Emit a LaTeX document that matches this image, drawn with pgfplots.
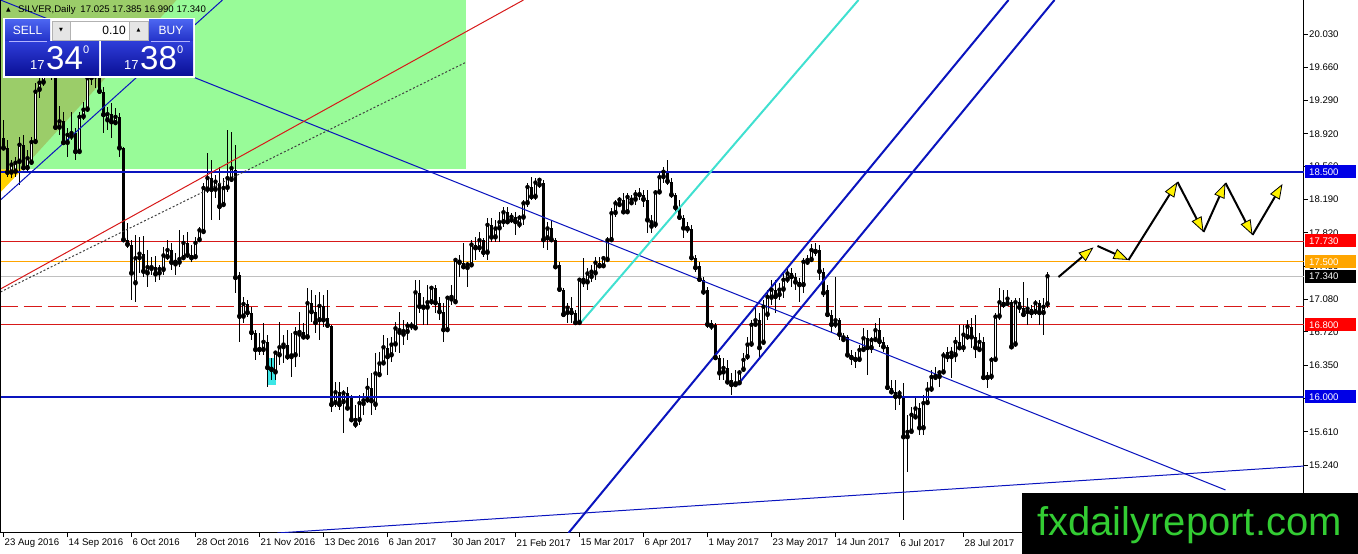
\documentclass[border=0pt]{standalone}
\usepackage{fontspec}
\setmainfont{Liberation Sans}
\newfontfamily\dejavu{DejaVu Sans}
\usepackage{pgfplots}
\usepackage{pgfplotstable}
\pgfplotsset{compat=1.18}
\usetikzlibrary{arrows.meta}

\definecolor{mtblue}{RGB}{10,20,190}
\definecolor{tagblue}{RGB}{0,0,230}
\definecolor{mtred}{RGB}{215,25,25}
\definecolor{mtorange}{RGB}{255,165,0}
\definecolor{mtgray}{RGB}{192,192,192}
\definecolor{palegr}{RGB}{152,251,152}
\definecolor{olivegr}{RGB}{155,205,105}
\definecolor{goldy}{RGB}{255,210,0}
\definecolor{turq}{RGB}{64,224,208}
\definecolor{aqua}{RGB}{60,230,230}
\definecolor{wmgreen}{RGB}{51,204,51}
\definecolor{btntop}{RGB}{75,100,240}
\definecolor{btnbot}{RGB}{35,50,200}
\definecolor{boxtop}{RGB}{45,60,215}
\definecolor{boxbot}{RGB}{10,15,150}

% daily silver candles: bar number, open, high, low, close
\pgfplotstableread{
i o h l c
0 18.87 19.07 18.74 18.76
1 18.76 18.85 18.44 18.49
2 18.49 18.63 18.43 18.58
3 18.50 18.66 18.44 18.60
4 18.61 18.89 18.35 18.80
5 18.80 18.91 18.52 18.54
6 18.54 18.74 18.50 18.65
7 18.60 18.89 18.58 18.83
8 18.83 19.49 18.82 19.39
9 19.41 19.54 19.32 19.49
10 19.49 19.72 19.45 19.61
11 19.61 19.74 19.57 19.68
12 19.68 19.72 19.52 19.63
13 19.63 19.69 18.96 18.99
14 18.99 19.23 18.91 19.06
15 19.06 19.16 18.80 18.82
16 18.82 18.99 18.66 18.91
17 18.89 19.16 18.85 18.93
18 18.93 18.99 18.63 18.72
19 18.72 19.16 18.71 19.11
20 19.11 19.27 19.07 19.19
21 19.19 19.60 19.16 19.54
22 19.54 19.74 19.46 19.63
23 19.63 19.72 19.43 19.56
24 19.56 19.63 19.36 19.39
25 19.39 19.44 18.93 19.13
26 19.07 19.22 18.96 19.14
27 19.14 19.26 18.87 19.05
28 19.04 19.21 19.02 19.11
29 19.11 19.15 18.66 18.76
30 18.76 18.77 17.72 17.74
31 17.74 17.93 17.65 17.69
32 17.69 17.74 17.08 17.37
33 17.26 17.80 17.05 17.54
34 17.54 17.77 17.37 17.59
35 17.59 17.79 17.33 17.39
36 17.37 17.63 17.22 17.44
37 17.42 17.55 17.35 17.44
38 17.44 17.56 17.27 17.36
39 17.37 17.46 17.30 17.42
40 17.41 17.66 17.35 17.57
41 17.55 17.74 17.52 17.63
42 17.63 17.71 17.41 17.49
43 17.47 17.60 17.35 17.50
44 17.49 17.85 17.44 17.53
45 17.54 17.80 17.52 17.71
46 17.71 17.83 17.54 17.57
47 17.57 17.69 17.50 17.54
48 17.55 17.77 17.54 17.71
49 17.74 17.89 17.72 17.85
50 17.83 18.38 17.82 18.32
51 18.30 18.71 18.26 18.43
52 18.43 18.63 17.96 18.30
53 18.30 18.46 18.21 18.39
54 18.38 18.55 17.96 18.11
55 18.13 18.43 18.11 18.32
56 18.32 18.96 18.27 18.43
57 18.41 18.94 18.39 18.54
58 18.52 18.80 17.15 17.32
59 17.35 17.39 16.61 16.89
60 16.89 17.11 16.82 17.03
61 17.03 17.08 16.89 16.93
62 16.93 17.00 16.63 16.71
63 16.71 16.74 16.41 16.52
64 16.54 16.71 16.46 16.52
65 16.52 16.82 16.46 16.61
66 16.61 16.69 16.11 16.32
67 16.33 16.43 16.19 16.30
68 16.27 16.50 16.19 16.49
69 16.46 16.83 16.35 16.55
70 16.55 16.69 16.37 16.58
71 16.58 16.74 16.41 16.44
72 16.44 16.71 16.22 16.46
73 16.46 16.78 16.33 16.71
74 16.69 16.94 16.44 16.72
75 16.72 16.82 16.65 16.66
76 16.66 17.21 16.63 17.04
77 17.04 17.19 16.83 16.94
78 16.94 17.13 16.71 16.82
79 16.85 17.16 16.63 17.01
80 17.01 17.13 16.78 16.85
81 16.88 17.19 16.76 16.79
82 16.79 16.80 15.83 15.91
83 15.93 16.16 15.89 16.05
84 16.05 16.16 15.85 15.91
85 15.94 16.08 15.60 16.04
86 16.04 16.11 15.85 15.87
87 16.00 16.02 15.72 15.74
88 15.76 15.91 15.65 15.69
89 15.74 16.02 15.69 15.93
90 15.92 16.04 15.80 15.96
91 15.96 16.21 15.93 16.10
92 16.10 16.26 15.80 15.95
93 15.91 16.49 15.85 16.26
94 16.24 16.50 16.22 16.37
95 16.37 16.69 16.35 16.55
96 16.54 16.65 16.24 16.44
97 16.46 16.66 16.39 16.58
98 16.58 16.83 16.50 16.76
99 16.71 16.94 16.49 16.74
100 16.69 16.85 16.58 16.73
101 16.72 16.83 16.63 16.79
102 16.78 16.83 16.74 16.79
103 16.76 17.30 16.74 17.16
104 17.15 17.30 16.93 17.00
105 17.02 17.11 16.80 16.99
106 16.99 17.24 16.80 17.05
107 17.05 17.23 17.02 17.21
108 17.21 17.24 16.93 17.04
109 17.04 17.11 16.85 16.94
110 16.94 17.04 16.61 16.74
111 16.74 17.11 16.72 17.10
112 17.08 17.24 17.02 17.11
113 17.05 17.54 17.04 17.52
114 17.52 17.57 17.33 17.49
115 17.49 17.71 17.43 17.44
116 17.43 17.50 17.22 17.47
117 17.46 17.74 17.44 17.69
118 17.69 17.77 17.52 17.65
119 17.65 17.83 17.61 17.74
120 17.74 17.76 17.55 17.60
121 17.60 17.99 17.52 17.91
122 17.91 17.99 17.72 17.77
123 17.77 17.96 17.72 17.87
124 17.87 18.05 17.72 17.94
125 17.94 18.11 17.89 18.05
126 18.05 18.11 17.93 17.94
127 17.96 18.04 17.93 18.00
128 18.00 18.05 17.80 17.94
129 17.91 18.02 17.87 17.99
130 17.99 18.19 17.91 18.15
131 18.15 18.38 18.11 18.33
132 18.33 18.44 18.19 18.22
133 18.22 18.43 18.19 18.38
134 18.35 18.43 18.32 18.41
135 18.38 18.41 17.65 17.74
136 17.76 17.94 17.63 17.87
137 17.87 17.96 17.72 17.74
138 17.74 17.76 17.43 17.44
139 17.46 17.50 17.16 17.19
140 17.19 17.21 16.89 16.91
141 16.93 17.04 16.82 16.99
142 16.99 17.11 16.82 16.93
143 16.93 16.96 16.81 16.82
144 16.82 17.32 16.81 17.30
145 17.27 17.54 17.22 17.30
146 17.27 17.43 17.19 17.37
147 17.33 17.46 17.27 17.39
148 17.37 17.55 17.30 17.49
149 17.49 17.55 17.44 17.45
150 17.45 17.55 17.44 17.54
151 17.52 17.77 17.50 17.74
152 17.74 18.10 17.72 18.04
153 18.04 18.19 18.00 18.15
154 18.13 18.22 18.11 18.19
155 18.19 18.26 18.04 18.05
156 18.05 18.26 18.04 18.22
157 18.15 18.24 18.13 18.19
158 18.19 18.30 18.13 18.25
159 18.25 18.32 18.19 18.24
160 18.24 18.30 18.11 18.19
161 18.19 18.30 17.82 17.96
162 17.89 18.02 17.82 17.94
163 17.91 18.30 17.87 18.27
164 18.27 18.49 18.25 18.44
165 18.44 18.55 18.38 18.50
166 18.50 18.63 18.35 18.39
167 18.39 18.43 18.21 18.24
168 18.24 18.26 18.05 18.10
169 18.10 18.19 17.96 17.99
170 17.99 18.02 17.76 17.87
171 17.90 17.94 17.82 17.86
172 17.86 17.91 17.52 17.54
173 17.54 17.57 17.39 17.43
174 17.45 17.50 17.27 17.30
175 17.30 17.33 17.13 17.16
176 17.19 17.22 16.76 16.80
177 16.82 16.85 16.74 16.78
178 16.80 16.82 16.41 16.43
179 16.43 16.46 16.19 16.26
180 16.27 16.43 16.19 16.32
181 16.32 16.41 16.15 16.16
182 16.19 16.26 16.02 16.13
183 16.13 16.30 16.11 16.15
184 16.15 16.30 16.13 16.27
185 16.30 16.49 16.27 16.41
186 16.44 16.66 16.41 16.58
187 16.58 16.85 16.55 16.80
188 16.80 17.00 16.78 16.85
189 16.85 16.93 16.43 16.54
190 16.60 17.08 16.58 17.00
191 16.91 17.19 16.85 17.11
192 17.10 17.30 17.02 17.19
193 17.19 17.30 16.93 17.11
194 17.13 17.26 17.08 17.19
195 17.19 17.37 17.10 17.30
196 17.30 17.44 17.26 17.37
197 17.37 17.43 17.22 17.33
198 17.33 17.37 17.19 17.27
199 17.27 17.32 17.05 17.24
200 17.24 17.54 17.15 17.50
201 17.49 17.57 17.46 17.52
202 17.52 17.70 17.50 17.63
203 17.63 17.71 17.56 17.61
204 17.63 17.69 17.30 17.39
205 17.39 17.43 17.11 17.15
206 17.19 17.24 16.89 16.91
207 16.91 16.96 16.71 16.80
208 16.80 17.33 16.76 16.85
209 16.85 16.88 16.63 16.69
210 16.63 16.71 16.61 16.66
211 16.66 16.69 16.44 16.46
212 16.46 16.52 16.35 16.43
213 16.43 16.50 16.32 16.41
214 16.41 16.58 16.39 16.52
215 16.52 16.76 16.50 16.65
216 16.65 16.74 16.24 16.54
217 16.54 16.66 16.49 16.63
218 16.63 16.82 16.61 16.74
219 16.74 16.88 16.55 16.61
220 16.61 16.66 16.50 16.55
221 16.55 16.58 16.08 16.10
222 16.10 16.19 16.04 16.05
223 16.05 16.19 15.85 16.00
224 16.00 16.08 15.91 16.04
225 16.00 16.15 14.63 15.55
226 15.55 15.80 15.16 15.61
227 15.61 15.89 15.60 15.80
228 15.77 16.00 15.76 15.87
229 15.87 15.93 15.57 15.65
230 15.65 16.02 15.57 15.93
231 15.93 16.16 15.91 16.08
232 16.08 16.30 16.05 16.22
233 16.21 16.33 16.19 16.23
234 16.22 16.30 16.11 16.27
235 16.27 16.50 16.26 16.46
236 16.50 16.55 16.39 16.44
237 16.44 16.55 16.21 16.49
238 16.46 16.66 16.39 16.61
239 16.61 16.80 16.52 16.54
240 16.54 16.80 16.50 16.69
241 16.66 16.85 16.63 16.78
242 16.78 16.88 16.54 16.66
243 16.66 16.91 16.43 16.54
244 16.52 16.71 16.50 16.61
245 16.61 16.66 16.19 16.21
246 16.23 16.27 16.10 16.21
247 16.22 16.44 16.19 16.41
248 16.41 16.93 16.39 16.89
249 16.89 17.21 16.85 17.05
250 17.05 17.19 16.99 17.02
251 17.03 17.19 17.01 17.09
252 17.05 17.08 16.54 16.55
253 16.58 17.10 16.55 17.05
254 17.05 17.10 16.93 16.99
255 16.99 17.27 16.89 16.91
256 16.94 17.10 16.80 16.98
257 16.98 17.02 16.88 16.93
258 16.94 17.08 16.91 17.04
259 17.04 17.08 16.80 16.93
260 16.93 17.10 16.69 17.00
261 17.025 17.385 16.990 17.340
}\candles

\pgfplotsset{
  candle/.style 2 args={only marks, mark=none, error bars/.cd, y explicit, error mark=none,
    y dir=#1, error bar style={#2}},
  move/.style={black, line width=2pt, mark=none,
    -{Triangle[length=15pt, width=11pt, fill=yellow, line width=0.8pt]}},
}

\begin{document}
\begin{tikzpicture}
\useasboundingbox (0,-21pt) rectangle (1358pt,533pt);
\begin{axis}[
  at={(0,0)}, anchor=south west,
  scale only axis, width=1304pt, height=533pt,
  xmin=-0.875, xmax=325.125, ymin=14.4858, ymax=20.408,
  axis x line*=bottom, axis y line*=right,
  axis line style={black, line width=1pt},
  tick align=outside, major tick length=4pt,
  tick style={black, line width=1pt},
  xtick={0,16,...,240},
  xticklabels={23 Aug 2016, 14 Sep 2016, 6 Oct 2016, 28 Oct 2016, 21 Nov 2016,
    13 Dec 2016, 6 Jan 2017, 30 Jan 2017, 21 Feb 2017, 15 Mar 2017, 6 Apr 2017,
    1 May 2017, 23 May 2017, 14 Jun 2017, 6 Jul 2017, 28 Jul 2017},
  ytick={20.03,19.66,19.29,18.92,18.56,18.19,17.82,17.45,17.08,16.72,16.35,15.98,15.61,15.24,14.87},
  yticklabels={20.030,19.660,19.290,18.920,18.560,18.190,17.820,17.450,17.080,16.720,16.350,15.980,15.610,15.240,14.870},
  tick label style={font=\fontsize{9.6}{11}\selectfont},
  xticklabel style={anchor=north west, inner sep=0pt, xshift=1pt, yshift=-2pt},
  yticklabel style={anchor=west, inner sep=0pt, xshift=1pt},
]
% shaded zones
\addplot[fill=palegr, draw=none, mark=none] coordinates {(-1,20.6) (115.75,20.6) (115.75,18.525) (-1,18.525)};
\addplot[fill=olivegr, draw=none, mark=none] coordinates {(-1,20.6) (47.2,20.6) (4.65,18.525) (-1,18.525)};
\addplot[fill=goldy, draw=none, mark=none] coordinates {(-1,18.525) (4.65,18.525) (-1,18.26)};
\addplot[fill=aqua, draw=none, mark=none] coordinates {(66,16.43) (68.25,16.43) (68.25,16.13) (66,16.13)};

% horizontal levels
\addplot[mtgray, line width=1pt, mark=none] coordinates {(-1,17.34) (326,17.34)};
\addplot[mtorange, line width=1pt, mark=none] coordinates {(-1,17.5) (326,17.5)};
\addplot[mtred, line width=1pt, mark=none] coordinates {(-1,17.73) (326,17.73)};
\addplot[mtred, line width=1pt, mark=none] coordinates {(-1,16.8) (326,16.8)};
\addplot[mtred, line width=1pt, mark=none, dash pattern=on 18pt off 6pt] coordinates {(-1,17.0) (326,17.0)};

% candles: wicks, bodies, hollow up-bodies
\addplot[candle={both}{black, line width=1pt}]
  table[x=i, y=c, y error plus expr=\thisrow{h}-\thisrow{c}, y error minus expr=\thisrow{c}-\thisrow{l}] {\candles};
\addplot[candle={plus}{black, line width=3pt}]
  table[x=i, y expr={min(\thisrow{o},\thisrow{c})}, y error plus expr={max(abs(\thisrow{o}-\thisrow{c}),0.011)}] {\candles};
\addplot[candle={plus}{white, line width=1pt}]
  table[x=i, y expr={min(\thisrow{o},\thisrow{c})+0.0111}, y error plus expr={max(\thisrow{c}-\thisrow{o}-0.0222,0)}] {\candles};

% support / resistance
\addplot[mtblue, line width=2pt, mark=none] coordinates {(-1,18.5) (326,18.5)};
\addplot[mtblue, line width=2pt, mark=none] coordinates {(-1,16.0) (326,16.0)};

% trend lines
\addplot[mtblue, line width=1pt, mark=none] coordinates {(-0.75,20.408) (305.5,14.964)};
\addplot[mtblue, line width=1pt, mark=none] coordinates {(68.5,14.486) (325.25,15.23)};
\addplot[mtblue, line width=1pt, mark=none] coordinates {(-0.75,18.186) (54.75,20.408)};
\addplot[mtred, line width=1pt, mark=none] coordinates {(-0.75,17.197) (130,20.408)};
\addplot[black!75, line width=1pt, mark=none, dash pattern=on 2pt off 2pt] coordinates {(-0.75,17.164) (115.75,19.719)};
\addplot[turq, line width=2pt, mark=none] coordinates {(144.25,16.819) (213.75,20.408)};
\addplot[mtblue, line width=2pt, mark=none] coordinates {(141.25,14.486) (251.25,20.408)};
\addplot[mtblue, line width=2pt, mark=none] coordinates {(183.5,16.130) (262.75,20.408)};

% projected path
\addplot[move] coordinates {(263.75,17.33) (272.5,17.66)};
\addplot[move] coordinates {(273.5,17.675) (281.25,17.52)};
\addplot[move] coordinates {(281.25,17.519) (293.5,18.386)};
\addplot[move] coordinates {(293.5,18.386) (300,17.83)};
\addplot[move] coordinates {(300,17.83) (305.5,18.375)};
\addplot[move] coordinates {(305.5,18.375) (312.25,17.797)};
\addplot[move] coordinates {(312.25,17.797) (319.75,18.364)};
\end{axis}

\begin{scope}[x=1pt, y=-1pt, shift={(0pt,533pt)}]
\draw[black, line width=1pt] (0.5,0) -- (0.5,533);
% header
\node[anchor=west, inner sep=0pt, font=\dejavu\fontsize{6}{6}\selectfont] at (6,10) {▲};
\node[anchor=west, inner sep=0pt, font=\fontsize{9.6}{11}\selectfont] at (18,10)
  {SILVER,Daily\enspace 17.025 17.385 16.990 17.340};
% one-click trading panel
\fill[white] (3,18) rectangle (195,78);
\shade[top color=btntop, bottom color=btnbot] (5,20) rectangle (50,41);
\shade[top color=btntop, bottom color=btnbot] (149,20) rectangle (193,41);
\shade[top color=boxtop, bottom color=boxbot] (5,42) rectangle (99,76);
\shade[top color=boxtop, bottom color=boxbot] (101,42) rectangle (193,76);
\draw[white!70!blue, line width=0.8pt] (9,41.5) -- (47,41.5);
\draw[white!70!blue, line width=0.8pt] (151,41.5) -- (190,41.5);
\filldraw[fill=black!10, draw=black!30] (52,21) rectangle (70,40);
\filldraw[fill=white, draw=black!30] (70,21) rectangle (129,40);
\filldraw[fill=black!10, draw=black!30] (129,21) rectangle (148,40);
\node[font=\dejavu\fontsize{5}{5}\selectfont] at (61,30.5) {▼};
\node[font=\dejavu\fontsize{5}{5}\selectfont] at (138.5,30.5) {▲};
\node[anchor=east, inner sep=0pt, font=\fontsize{12}{12}\selectfont] at (126,30.5) {0.10};
\node[text=white, font=\fontsize{12}{12}\selectfont] at (27.5,30.5) {SELL};
\node[text=white, font=\fontsize{12}{12}\selectfont] at (171,30.5) {BUY};
\node[text=white, anchor=base west, inner sep=0pt, font=\fontsize{13}{13}\selectfont] at (30,70) {17};
\node[text=white, anchor=base west, inner sep=0pt, font=\fontsize{33}{33}\selectfont] at (46,70) {34};
\node[text=white, anchor=base west, inner sep=0pt, font=\fontsize{11}{11}\selectfont] at (83,54) {0};
\node[text=white, anchor=base west, inner sep=0pt, font=\fontsize{13}{13}\selectfont] at (124,70) {17};
\node[text=white, anchor=base west, inner sep=0pt, font=\fontsize{33}{33}\selectfont] at (140,70) {38};
\node[text=white, anchor=base west, inner sep=0pt, font=\fontsize{11}{11}\selectfont] at (177,54) {0};
% price tags on the scale
\foreach \yy/\txt/\col in {171.7/18.500/tagblue, 241.0/17.730/red, 261.7/17.500/mtorange,
    276.1/17.340/black, 324.7/16.800/red, 396.7/16.000/tagblue} {
  \fill[\col] (1305,\yy-6.5) rectangle (1356,\yy+6.5);
  \node[anchor=west, inner sep=0pt, text=white, font=\fontsize{9.6}{11}\selectfont] at (1309,\yy) {\txt};
}
% watermark
\fill[black] (1022,493) rectangle (1360,556);
\node[anchor=base west, inner sep=0pt, text=wmgreen, font=\fontsize{40}{40}\selectfont] at (1037,536) {fxdailyreport.com};
\end{scope}
\end{tikzpicture}
\end{document}
